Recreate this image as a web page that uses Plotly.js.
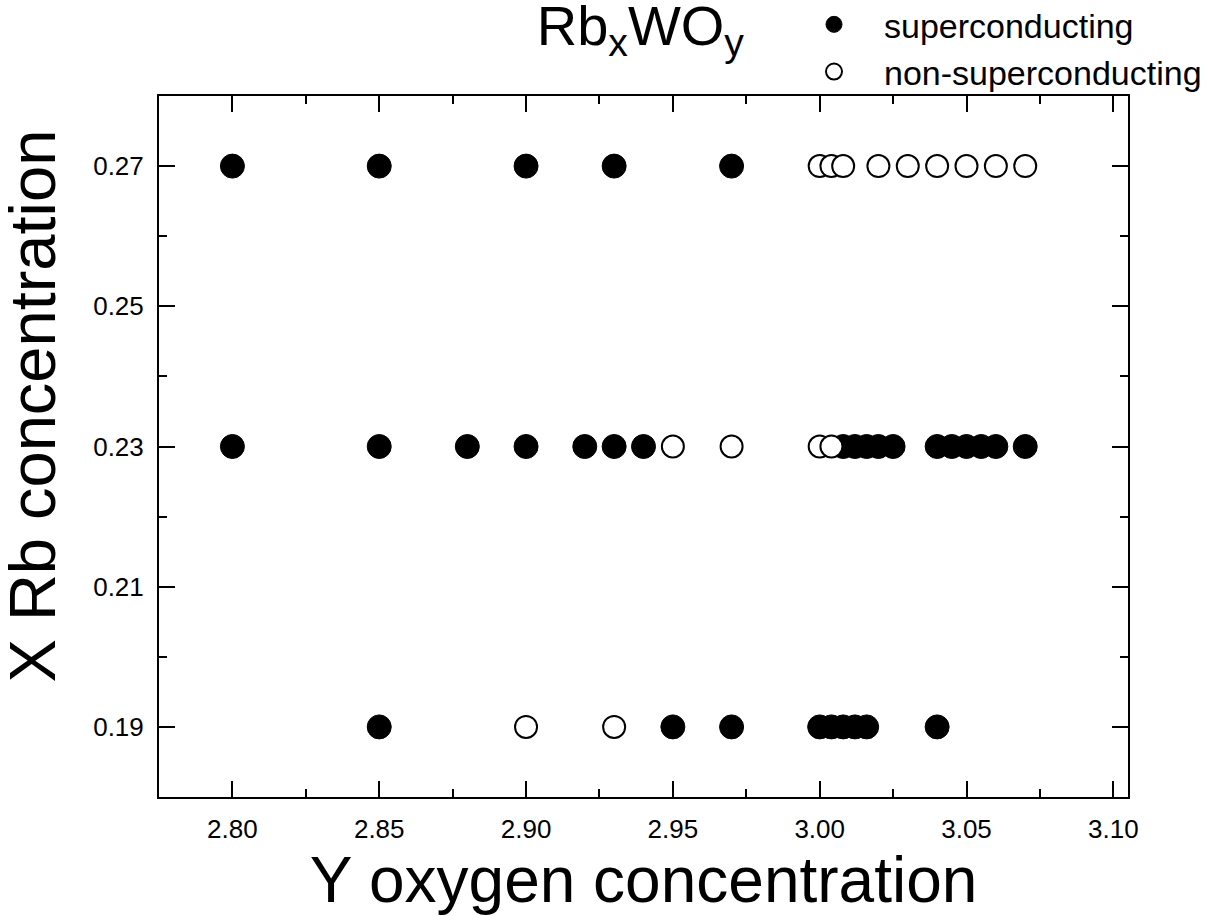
<!DOCTYPE html>
<html>
<head>
<meta charset="utf-8">
<script src="https://cdn.plot.ly/plotly-3.0.1.min.js"></script>
<style>html,body{margin:0;padding:0;background:#fff;}</style>
</head>
<body>
<div id="chart" style="width:1222px;height:916px;"></div>
<script>
// Superconducting samples (filled circles)
const scOxygen = [2.80, 2.85, 2.90, 2.93, 2.97,
  2.80, 2.85, 2.88, 2.90, 2.92, 2.93, 2.94, 3.008, 3.012, 3.016, 3.020, 3.025, 3.040, 3.045, 3.050, 3.055, 3.060, 3.070,
  2.85, 2.95, 2.97, 3.000, 3.004, 3.008, 3.012, 3.016, 3.040];
const scRb = [0.27, 0.27, 0.27, 0.27, 0.27,
  0.23, 0.23, 0.23, 0.23, 0.23, 0.23, 0.23, 0.23, 0.23, 0.23, 0.23, 0.23, 0.23, 0.23, 0.23, 0.23, 0.23, 0.23,
  0.19, 0.19, 0.19, 0.19, 0.19, 0.19, 0.19, 0.19, 0.19];
// Non-superconducting samples (open circles)
const nscOxygen = [3.000, 3.004, 3.008, 3.02, 3.03, 3.04, 3.05, 3.06, 3.07,
  2.95, 2.97, 3.000, 3.004,
  2.90, 2.93];
const nscRb = [0.27, 0.27, 0.27, 0.27, 0.27, 0.27, 0.27, 0.27, 0.27,
  0.23, 0.23, 0.23, 0.23,
  0.19, 0.19];
const xTicks = [2.80, 2.85, 2.90, 2.95, 3.00, 3.05, 3.10];
const yTicks = [0.19, 0.21, 0.23, 0.25, 0.27];

const font = 'Arial, "Liberation Sans", sans-serif';

const traces = [
  {x: scOxygen, y: scRb, type: 'scatter', mode: 'markers', name: 'superconducting',
   marker: {symbol: 'circle', size: 24, color: '#000', line: {color: '#000', width: 1}}},
  {x: nscOxygen, y: nscRb, type: 'scatter', mode: 'markers', name: 'non-superconducting',
   marker: {symbol: 'circle', size: 22, color: '#fff', line: {color: '#000', width: 2}}}
];

const layout = {
  width: 1222, height: 916,
  paper_bgcolor: '#fff', plot_bgcolor: '#fff',
  margin: {l: 159, r: 94, t: 96, b: 119, autoexpand: false},
  font: {family: font, color: '#000'},
  title: {text: 'Rb<sub>x</sub>WO<sub>y</sub>', font: {family: font, size: 56, color: '#000'},
          x: 0.524, xanchor: 'center', y: 0.994, yanchor: 'top', pad: {t: 0}},
  showlegend: true,
  legend: {x: 0.645, xanchor: 'left', y: 1.143, yanchor: 'top', bgcolor: 'rgba(0,0,0,0)',
           font: {family: font, size: 34, color: '#000'}, itemwidth: 90, tracegroupgap: 0},
  xaxis: {
    range: [2.775, 3.105], tickvals: xTicks, ticktext: xTicks.map(v => v.toFixed(2)),
    ticks: 'inside', ticklen: 16, tickwidth: 2, tickcolor: '#000', ticklabelstandoff: 8,
    minor: {ticks: 'inside', dtick: 0.025, tick0: 2.775, ticklen: 8, tickwidth: 2, tickcolor: '#000'},
    showline: true, linecolor: '#000', linewidth: 2, mirror: 'ticks',
    showgrid: false, zeroline: false,
    tickfont: {family: font, size: 26, color: '#000'},
    title: {text: 'Y oxygen concentration', font: {family: font, size: 64, color: '#000'}, standoff: 10}
  },
  yaxis: {
    range: [0.18, 0.28], tickvals: yTicks, ticktext: yTicks.map(v => v.toFixed(2)),
    ticks: 'inside', ticklen: 16, tickwidth: 2, tickcolor: '#000', ticklabelstandoff: 8,
    minor: {ticks: 'inside', dtick: 0.01, tick0: 0.18, ticklen: 8, tickwidth: 2, tickcolor: '#000'},
    showline: true, linecolor: '#000', linewidth: 2, mirror: 'ticks',
    showgrid: false, zeroline: false,
    tickfont: {family: font, size: 26, color: '#000'}
  },
  annotations: [
    {text: 'X Rb concentration', textangle: -90, showarrow: false,
     xref: 'paper', yref: 'paper', x: -0.1305, y: 0.5578, xanchor: 'center', yanchor: 'middle',
     font: {family: font, size: 65, color: '#000'}}
  ]
};

Plotly.newPlot('chart', traces, layout, {displayModeBar: false, staticPlot: true});
</script>
</body>
</html>
